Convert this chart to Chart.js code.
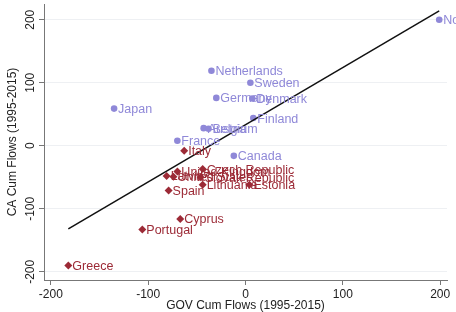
<!DOCTYPE html>
<html>
<head>
<meta charset="utf-8">
<script src="https://cdn.jsdelivr.net/npm/chart.js@4"></script>
<style>
  body { margin: 0; background: #fff; }
</style>
</head>
<body>
<canvas id="grafica" width="456" height="312"></canvas>
<script>
// --- Datos ---
const blueNames = ["Norway", "Netherlands", "Sweden", "Germany", "Denmark", "Finland", "Japan", "Austria", "Belgium", "France", "Canada"];
const blueGov = [199, -35, 5, -30, 7, 8, -135, -43, -38, -70, -12];
const blueCa = [200, 119, 100, 76, 75, 44, 59, 28, 27, 8, -16];

const redNames = ["Italy", "Latvia", "United States", "United Kingdom", "Czech Republic", "Slovak Republic", "Lithuania", "Estonia", "Spain", "Cyprus", "Portugal", "Greece"];
const redGov = [-63, -81, -74, -70, -44, -46, -44, 4, -79, -67, -106, -182];
const redCa = [-8, -48, -49, -41, -37, -50, -62, -62, -71, -116, -133, -190];

const fitGov = [-182, 199];
const fitCa = [-132, 214];

const xTicks = [-200, -100, 0, 100, 200];
const yTicks = [-200, -100, 0, 100, 200];

const toPoints = (xs, ys) => xs.map((x, i) => ({ x: x, y: ys[i] }));

const FONT = "'Liberation Sans', Arial, sans-serif";
const BLUE = "#8f88d8";
const RED = "#9c2a36";

// etiquetas de cada pais junto al punto
const pointLabels = {
    id: "pointLabels",
    afterDatasetsDraw(chart) {
        const ctx = chart.ctx;
        ctx.save();
        ctx.font = "12.5px " + FONT;
        ctx.textBaseline = "middle";
        ctx.textAlign = "left";
        chart.data.datasets.forEach((ds, i) => {
            if (!ds.names) return;
            const meta = chart.getDatasetMeta(i);
            ctx.fillStyle = ds.borderColor;
            meta.data.forEach((el, j) => {
                ctx.fillText(ds.names[j], el.x + 4, el.y + 1);
            });
        });
        ctx.restore();
    }
};

// etiquetas verticales del eje y
const yTickLabels = {
    id: "yTickLabels",
    afterDraw(chart) {
        const ctx = chart.ctx;
        const y = chart.scales.y;
        ctx.save();
        ctx.font = "12px " + FONT;
        ctx.fillStyle = "#222";
        ctx.textAlign = "center";
        ctx.textBaseline = "middle";
        yTicks.forEach(v => {
            const py = y.getPixelForValue(v);
            ctx.save();
            ctx.translate(31, py);
            ctx.rotate(-Math.PI / 2);
            ctx.fillText(String(v), 0, 0);
            ctx.restore();
        });
        ctx.restore();
    }
};

new Chart(document.getElementById("grafica"), {
    data: {
        datasets: [
            {
                type: "line",
                data: toPoints(fitGov, fitCa),
                borderColor: "#111",
                borderWidth: 1.5,
                pointRadius: 0
            },
            {
                type: "scatter",
                names: blueNames,
                data: toPoints(blueGov, blueCa),
                backgroundColor: BLUE,
                borderColor: BLUE,
                pointStyle: "circle",
                pointRadius: 3.3,
                borderWidth: 0
            },
            {
                type: "scatter",
                names: redNames,
                data: toPoints(redGov, redCa),
                backgroundColor: RED,
                borderColor: RED,
                pointStyle: "rectRot",
                pointRadius: 4,
                borderWidth: 0
            }
        ]
    },
    options: {
        responsive: false,
        animation: false,
        layout: { padding: { top: 3, right: 9 } },
        plugins: { legend: { display: false }, tooltip: { enabled: false } },
        scales: {
            x: {
                type: "linear",
                min: -207,
                max: 207,
                afterBuildTicks: s => { s.ticks = xTicks.map(v => ({ value: v })); },
                afterFit: s => { s.height = 32; },
                grid: { color: "transparent", tickColor: "#777", tickLength: 5 },
                border: { color: "#777", width: 1 },
                ticks: { color: "#222", font: { family: FONT, size: 12 }, padding: 2, maxRotation: 0 },
                title: { display: true, text: "GOV Cum Flows (1995-2015)", color: "#222", font: { family: FONT, size: 12 }, padding: { top: 0, bottom: -1 } }
            },
            y: {
                type: "linear",
                min: -213,
                max: 225,
                afterBuildTicks: s => { s.ticks = yTicks.map(v => ({ value: v })); },
                afterFit: s => { s.width = 44; },
                grid: { color: "#eef0f3", tickColor: "#777", tickLength: 5 },
                border: { color: "#777", width: 1 },
                ticks: { display: false },
                title: { display: true, text: "CA Cum Flows (1995-2015)", color: "#222", font: { family: FONT, size: 12 }, padding: { top: 5, bottom: 4 } }
            }
        }
    },
    plugins: [pointLabels, yTickLabels]
});
</script>
</body>
</html>
